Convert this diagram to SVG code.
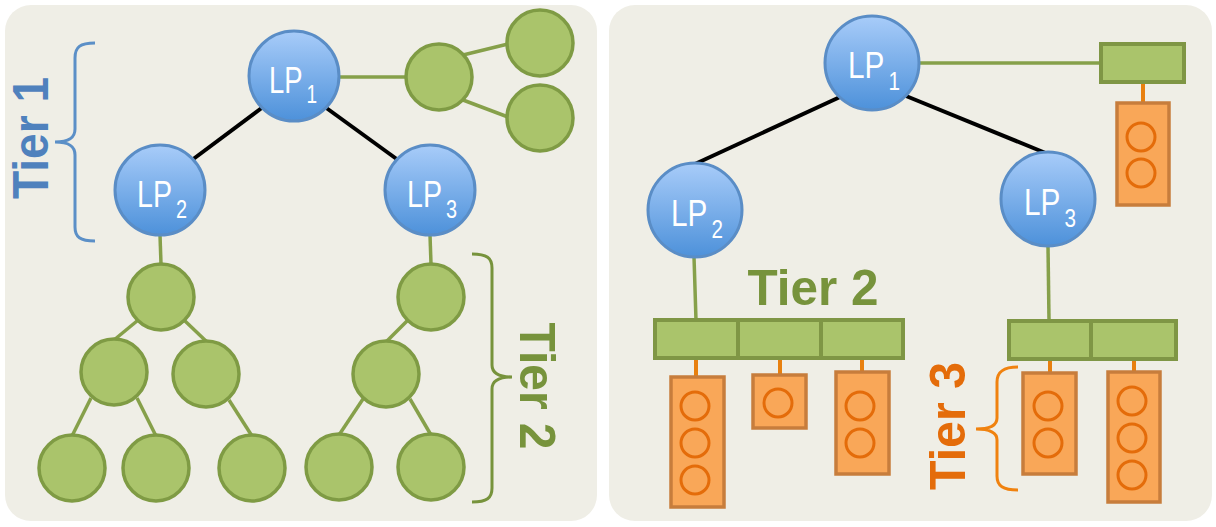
<svg xmlns="http://www.w3.org/2000/svg" width="1216" height="527" viewBox="0 0 1216 527">
  <defs>
    <linearGradient id="lpFill" x1="0" y1="0" x2="0" y2="1">
      <stop offset="0" stop-color="#a8ccf9"/>
      <stop offset="1" stop-color="#4d91da"/>
    </linearGradient>
    <style>
      .panel { fill: #efeee6; }
      .lp { fill: url(#lpFill); stroke: #5a8dc6; stroke-width: 3; }
      .lpText { fill: #ffffff; font-family: "Liberation Sans", Arial, sans-serif; font-size: 36px; }
      .sub { font-size: 25px; }
      .gnode { fill: #aac46b; stroke: #7f9b44; stroke-width: 3.5; }
      .gbox { fill: #aac46b; stroke: #7f9645; stroke-width: 4; }
      .obox { fill: #f9a758; stroke: #c77d3c; stroke-width: 3.5; }
      .oslot { fill: none; stroke: #e46c0a; stroke-width: 3; }
      .black { stroke: #000000; stroke-width: 4; fill: none; }
      .gline { stroke: #86a04a; stroke-width: 3.5; fill: none; }
      .oline { stroke: #e8800f; stroke-width: 4; fill: none; }
      .brace { fill: none; stroke-width: 3; }
      .tier { font-family: "Liberation Sans", Arial, sans-serif; font-weight: bold; font-size: 50px; }
    </style>
  </defs>

  <!-- panels -->
  <rect class="panel" x="5" y="5" width="592" height="516" rx="26"/>
  <rect class="panel" x="609" y="5" width="603" height="516" rx="26"/>

  <!-- connectors -->
  <g id="connectors">
    <!-- left: LP tree -->
    <line class="black" x1="263" y1="107" x2="192" y2="160"/>
    <line class="black" x1="325" y1="107" x2="398" y2="160"/>
    <line class="gline" x1="339" y1="77" x2="406" y2="77"/>
    <line class="gline" x1="463" y1="55" x2="508" y2="44"/>
    <line class="gline" x1="463" y1="100" x2="508" y2="117"/>
    <line class="gline" x1="160" y1="235" x2="161" y2="264"/>
    <line class="gline" x1="430" y1="235" x2="431" y2="264"/>
    <line class="gline" x1="137" y1="321" x2="114" y2="340"/>
    <line class="gline" x1="185" y1="321" x2="207" y2="342"/>
    <line class="gline" x1="91" y1="398" x2="72" y2="436"/>
    <line class="gline" x1="137" y1="398" x2="156" y2="436"/>
    <line class="gline" x1="229" y1="400" x2="252" y2="436"/>
    <line class="gline" x1="407" y1="321" x2="386" y2="342"/>
    <line class="gline" x1="363" y1="399" x2="339" y2="435"/>
    <line class="gline" x1="410" y1="399" x2="431" y2="435"/>
    <!-- right: LP tree -->
    <line class="black" x1="840" y1="97" x2="695" y2="164"/>
    <line class="black" x1="906" y1="96" x2="1048" y2="154"/>
    <line class="gline" x1="919" y1="63" x2="1101" y2="63"/>
    <line class="gline" x1="694" y1="257" x2="696" y2="320"/>
    <line class="gline" x1="1048" y1="246" x2="1049" y2="320"/>
    <line class="oline" x1="1143" y1="82" x2="1143" y2="103"/>
    <line class="oline" x1="696" y1="358" x2="696" y2="377"/>
    <line class="oline" x1="780" y1="358" x2="780" y2="375"/>
    <line class="oline" x1="862" y1="358" x2="862" y2="372"/>
    <line class="oline" x1="1050" y1="358" x2="1050" y2="373"/>
    <line class="oline" x1="1134" y1="358" x2="1134" y2="372"/>
  </g>

  <!-- left panel nodes -->
  <g id="lp1-left">
    <circle class="lp" cx="294" cy="76" r="45"/>
    <text class="lpText" x="269" y="93" textLength="48" lengthAdjust="spacingAndGlyphs">LP<tspan class="sub" dx="5" dy="10">1</tspan></text>
  </g>
  <g id="lp2-left">
    <circle class="lp" cx="160" cy="190" r="45"/>
    <text class="lpText" x="137" y="207" textLength="50" lengthAdjust="spacingAndGlyphs">LP<tspan class="sub" dx="5" dy="11">2</tspan></text>
  </g>
  <g id="lp3-left">
    <circle class="lp" cx="430" cy="190" r="45"/>
    <text class="lpText" x="407" y="207" textLength="50" lengthAdjust="spacingAndGlyphs">LP<tspan class="sub" dx="5" dy="11">3</tspan></text>
  </g>

  <g id="lp1-left-children">
    <circle class="gnode" cx="439" cy="77" r="33"/>
    <circle class="gnode" cx="540" cy="43" r="33"/>
    <circle class="gnode" cx="540" cy="118" r="33"/>
  </g>
  <g id="lp2-left-subtree">
    <circle class="gnode" cx="161" cy="297" r="33"/>
    <circle class="gnode" cx="114" cy="372" r="33"/>
    <circle class="gnode" cx="206" cy="374" r="33"/>
    <circle class="gnode" cx="72" cy="468" r="33"/>
    <circle class="gnode" cx="156" cy="468" r="33"/>
    <circle class="gnode" cx="252" cy="468" r="33"/>
  </g>
  <g id="lp3-left-subtree">
    <circle class="gnode" cx="431" cy="297" r="33"/>
    <circle class="gnode" cx="386" cy="374" r="33"/>
    <circle class="gnode" cx="339" cy="467" r="33"/>
    <circle class="gnode" cx="431" cy="467" r="33"/>
  </g>

  <!-- left panel tier labels -->
  <g id="tier1-left">
    <path class="brace" stroke="#5b8fc7" d="M95,43 C80,43 75,47 75,58 L75,129 C75,138 69,142 55,142 C69,142 75,146 75,155 L75,227 C75,237 80,241 95,241"/>
    <text class="tier" fill="#4f81bd" transform="translate(48,138) rotate(-90)" text-anchor="middle" textLength="122" lengthAdjust="spacingAndGlyphs">Tier 1</text>
  </g>
  <g id="tier2-left">
    <path class="brace" stroke="#77933c" d="M472,254 C487,254 492,258 492,268 L492,365 C492,373 498,377 512,377 C498,377 492,381 492,389 L492,488 C492,498 487,502 472,502"/>
    <text class="tier" fill="#77933c" transform="translate(520,386) rotate(90)" text-anchor="middle" textLength="127" lengthAdjust="spacingAndGlyphs">Tier 2</text>
  </g>

  <!-- right panel nodes -->
  <g id="lp1-right">
    <circle class="lp" cx="872" cy="63" r="47"/>
    <text class="lpText" x="848" y="78" textLength="52" lengthAdjust="spacingAndGlyphs">LP<tspan class="sub" dx="5" dy="12">1</tspan></text>
  </g>
  <g id="lp2-right">
    <circle class="lp" cx="695" cy="210" r="47"/>
    <text class="lpText" x="671" y="226" textLength="52" lengthAdjust="spacingAndGlyphs">LP<tspan class="sub" dx="5" dy="12">2</tspan></text>
  </g>
  <g id="lp3-right">
    <circle class="lp" cx="1048" cy="199" r="47"/>
    <text class="lpText" x="1024" y="215" textLength="52" lengthAdjust="spacingAndGlyphs">LP<tspan class="sub" dx="5" dy="12">3</tspan></text>
  </g>

  <g id="lp1-right-group">
    <rect class="gbox" x="1101" y="44" width="83" height="38"/>
    <rect class="obox" x="1117" y="103" width="52" height="102"/>
    <circle class="oslot" cx="1141" cy="137" r="14"/>
    <circle class="oslot" cx="1141" cy="173" r="14"/>
  </g>

  <g id="lp2-right-group">
    <rect class="gbox" x="655" y="320" width="83" height="38"/>
    <rect class="gbox" x="738" y="320" width="83" height="38"/>
    <rect class="gbox" x="821" y="320" width="82" height="38"/>
    <rect class="obox" x="671" y="377" width="53" height="130"/>
    <circle class="oslot" cx="695" cy="406" r="14"/>
    <circle class="oslot" cx="695" cy="443" r="14"/>
    <circle class="oslot" cx="695" cy="480" r="14"/>
    <rect class="obox" x="753" y="375" width="53" height="53"/>
    <circle class="oslot" cx="778" cy="403" r="14"/>
    <rect class="obox" x="836" y="372" width="53" height="102"/>
    <circle class="oslot" cx="860" cy="406" r="14"/>
    <circle class="oslot" cx="860" cy="443" r="14"/>
  </g>

  <g id="lp3-right-group">
    <rect class="gbox" x="1009" y="321" width="82" height="38"/>
    <rect class="gbox" x="1091" y="321" width="85" height="38"/>
    <rect class="obox" x="1023" y="373" width="53" height="101"/>
    <circle class="oslot" cx="1048" cy="406" r="14"/>
    <circle class="oslot" cx="1048" cy="443" r="14"/>
    <rect class="obox" x="1108" y="372" width="52" height="130"/>
    <circle class="oslot" cx="1132" cy="401" r="14"/>
    <circle class="oslot" cx="1132" cy="438" r="14"/>
    <circle class="oslot" cx="1132" cy="475" r="14"/>
  </g>

  <!-- right panel tier labels -->
  <g id="tier2-right">
    <text class="tier" fill="#77933c" x="813" y="305" font-size="51" text-anchor="middle" textLength="131" lengthAdjust="spacingAndGlyphs">Tier 2</text>
  </g>
  <g id="tier3-right">
    <path class="brace" stroke="#f0820f" d="M1018,367 C1003,367 997,372 997,382 L997,418 C997,426 990,429 976,429 C990,429 997,432 997,440 L997,476 C997,486 1003,490 1018,490"/>
    <text class="tier" fill="#e46c0a" transform="translate(965,426) rotate(-90)" text-anchor="middle" textLength="128" lengthAdjust="spacingAndGlyphs">Tier 3</text>
  </g>
</svg>
